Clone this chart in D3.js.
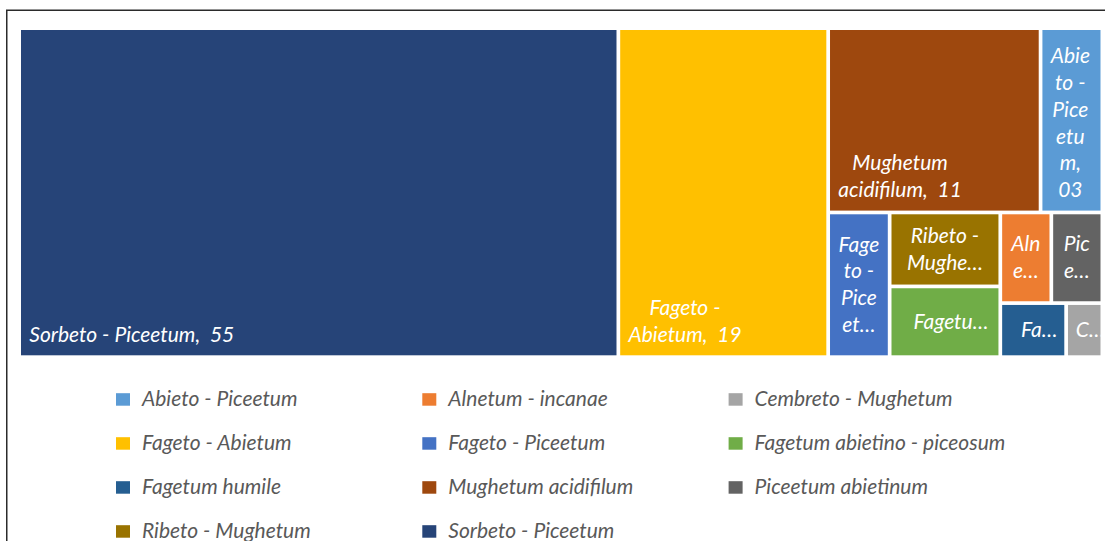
<!DOCTYPE html>
<html>
<head>
<meta charset="utf-8">
<script src="https://cdn.jsdelivr.net/npm/d3@7"></script>
<style>
  html, body { margin: 0; padding: 0; background: #ffffff; }
  svg { display: block; }
  text { font-family: Lato, "Open Sans", sans-serif; font-style: italic; white-space: pre; }
</style>
</head>
<body>
<svg id="chart" width="1105" height="541"></svg>
<script>
// Forest vegetation types: share of the surveyed area (%)
const categories = [
  "Abieto - Piceetum", "Alnetum - incanae", "Cembreto - Mughetum",
  "Fageto - Abietum", "Fageto - Piceetum", "Fagetum abietino - piceosum",
  "Fagetum humile", "Mughetum acidifilum", "Piceetum abietinum",
  "Ribeto - Mughetum", "Sorbeto - Piceetum"
];
const values = [3.2, 1.3, 0.55, 19.4, 2.5, 2.2, 1.0, 11.0, 1.3, 2.3, 55.4];
const colors = [
  "#5B9BD5", "#ED7D31", "#A5A5A5",
  "#FFC000", "#4472C4", "#70AD47",
  "#255E91", "#9E480E", "#636363",
  "#997300", "#264478"
];
// Tiles per strip, taken in order of decreasing value
const stripSizes = [1, 1, 2, 1, 2, 2, 1, 1];

const fmtValue = d3.format("02.0f");

const svg = d3.select("#chart");

// chart frame
svg.append("rect")
  .attr("x", 6.75).attr("y", 10.25)
  .attr("width", 1200).attr("height", 700)
  .attr("fill", "none")
  .attr("stroke", "#2b2b2b")
  .attr("stroke-width", 1.5);

// Strip tiling: each strip runs along the shorter side of the remaining area
function stripTile(parent, x0, y0, x1, y1) {
  const nodes = parent.children;
  let rest = parent.value, i = 0;
  for (const k of stripSizes) {
    if (i >= nodes.length) break;
    const strip = { children: nodes.slice(i, i + k) };
    strip.value = d3.sum(strip.children, d => d.value);
    i += k;
    const dx = x1 - x0, dy = y1 - y0;
    if (dx < dy) {
      const y = y0 + dy * strip.value / rest;
      d3.treemapDice(strip, x0, y0, x1, y);
      y0 = y;
    } else {
      const x = x0 + dx * strip.value / rest;
      d3.treemapSlice(strip, x0, y0, x, y1);
      x0 = x;
    }
    rest -= strip.value;
  }
}

const data = categories.map((c, i) => ({ name: c, value: values[i], color: colors[i] }));

const root = d3.hierarchy({ children: data })
  .sum(d => d.value || 0)
  .sort((a, b) => b.value - a.value);

const plot = { left: 21, top: 30, right: 1100.5, bottom: 355.3 };

d3.treemap()
  .tile(stripTile)
  .size([plot.right - plot.left, plot.bottom - plot.top])
  .paddingInner(3.7)(root);

const g = svg.append("g").attr("transform", `translate(${plot.left},${plot.top})`);

const FONT = 21, LINE_H = 26.7, PAD_X = 8.3, PAD_BOTTOM = 13.6, V_RESERVE = 15;

const meas = svg.append("text").style("font-size", FONT + "px").attr("visibility", "hidden");
const tw = s => { meas.text(s); return meas.node().getComputedTextLength(); };

// greedy wrap; a word wider than breakW is split between characters
function wrap(tokens, maxW, breakW) {
  const lines = [];
  let cur = "", broke = false;
  for (let t of tokens) {
    const cand = cur ? cur + " " + t : t.trimStart();
    if (tw(cand) <= maxW) { cur = cand; continue; }
    if (cur) { lines.push(cur); cur = ""; }
    t = t.trimStart();
    if (tw(t) > maxW) {
      if (!breakW) return null;
      if (tw(t) > breakW) {
        broke = true;
        while (t.length > 1 && tw(t) > breakW) {
          let n = 1;
          while (n < t.length && tw(t.slice(0, n + 1)) <= breakW) n++;
          lines.push(t.slice(0, n));
          t = t.slice(n);
        }
      }
    }
    cur = t;
  }
  if (cur) lines.push(cur);
  lines.broke = broke;
  return lines;
}

function layoutLabel(d) {
  const w = d.x1 - d.x0, h = d.y1 - d.y0;
  const nameWords = d.data.name.split(" ");
  nameWords[nameWords.length - 1] += ",";
  const tokens = nameWords.concat([" " + fmtValue(d.data.value)]);
  const maxW = Math.max(1, w - 2 * PAD_X - 2);
  const breakW = maxW + 4;
  const maxLines = Math.max(1, Math.floor((h - V_RESERVE) / LINE_H));
  let lines = wrap(tokens, maxW, breakW);
  if (!lines.broke && lines.length > 1) {
    // balance the lines: narrowest width keeping the same line count
    let lo = 1, hi = maxW;
    for (let it = 0; it < 24; it++) {
      const mid = (lo + hi) / 2;
      const l = wrap(tokens, mid, 0);
      if (l && l.length <= lines.length) hi = mid; else lo = mid;
    }
    lines = wrap(tokens, hi, 0) || lines;
  }
  let truncated = false;
  if (lines.length > maxLines) {
    truncated = true;
    lines = lines.slice(0, maxLines);
    let last = lines[maxLines - 1].replace(/[\s,]+$/, "");
    while (last.length > 1 && tw(last + "…") > maxW - 5) last = last.slice(0, -1);
    lines[maxLines - 1] = last + "…";
  }
  const blockW = d3.max(lines, tw);
  let cx, baselines;
  if (truncated) {
    // shortened labels are centred in the tile; a lone line sits a little right
    cx = w / 2 + (lines.length === 1 ? 6 : 0);
    const cy = h / 2 + 7;
    baselines = lines.map((_, i) => cy + (i - (lines.length - 1) / 2) * LINE_H);
  } else {
    cx = PAD_X + blockW / 2;
    baselines = lines.map((_, i) => h - PAD_BOTTOM - (lines.length - 1 - i) * LINE_H);
  }
  return { lines, cx, baselines };
}

const leaves = root.leaves();

const cell = g.selectAll("g.cell")
  .data(leaves)
  .join("g")
  .attr("class", "cell")
  .attr("transform", d => `translate(${d.x0},${d.y0})`);

cell.append("clipPath")
  .attr("id", (d, i) => "clip" + i)
  .append("rect")
  .attr("width", d => d.x1 - d.x0)
  .attr("height", d => d.y1 - d.y0);

cell.append("rect")
  .attr("width", d => d.x1 - d.x0)
  .attr("height", d => d.y1 - d.y0)
  .attr("fill", d => d.data.color);

cell.each(function (d, i) {
  const lab = layoutLabel(d);
  const t = d3.select(this).append("text")
    .attr("clip-path", `url(#clip${i})`)
    .attr("fill", "#ffffff")
    .attr("text-anchor", "middle")
    .style("font-size", FONT + "px");
  t.selectAll("tspan")
    .data(lab.lines)
    .join("tspan")
    .attr("x", lab.cx)
    .attr("y", (s, j) => lab.baselines[j])
    .text(s => s);
});

meas.remove();

// legend, three columns in alphabetical order
const legend = svg.append("g");
const LEG_X = 116, LEG_COL = 306.3, LEG_Y = 405.7, LEG_ROW = 44;
const item = legend.selectAll("g")
  .data(data)
  .join("g")
  .attr("transform", (d, i) => `translate(${LEG_X + (i % 3) * LEG_COL},${LEG_Y + Math.floor(i / 3) * LEG_ROW})`);
item.append("rect")
  .attr("x", 0).attr("y", -12.5)
  .attr("width", 14).attr("height", 12.5)
  .attr("fill", d => d.color);
item.append("text")
  .attr("x", 26).attr("y", 0)
  .attr("fill", "#595959")
  .style("font-size", FONT + "px")
  .text(d => d.name);
</script>
</body>
</html>
